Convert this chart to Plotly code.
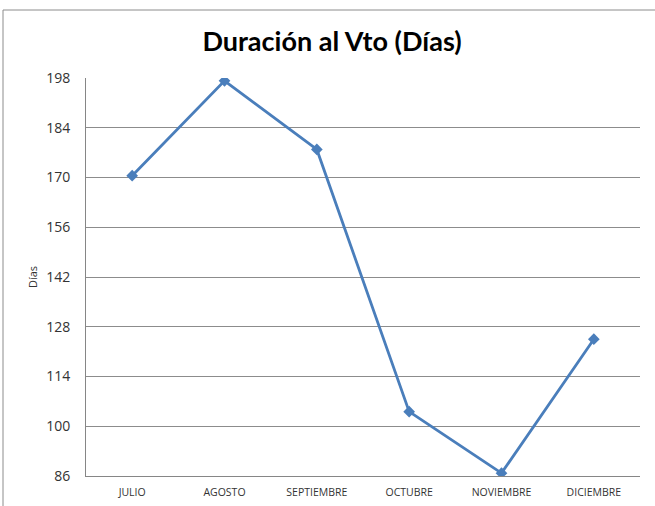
import plotly.graph_objects as go

months = ["JULIO", "AGOSTO", "SEPTIEMBRE", "OCTUBRE", "NOVIEMBRE", "DICIEMBRE"]
dias = [170.5, 197.2, 177.9, 104.1, 86.8, 124.5]
y_ticks = [86, 100, 114, 128, 142, 156, 170, 184, 198]

fig = go.Figure()
fig.add_trace(go.Scatter(
    x=months, y=dias, mode="lines+markers",
    line=dict(color="#4a7ebb", width=2.8),
    marker=dict(symbol="diamond", size=9, color="#4a7ebb"),
    showlegend=False,
))

W, H = 655, 506
L, R, T, B = 86, 15, 78, 30
pw, ph = W - L - R, H - T - B

fig.add_shape(type="rect", xref="paper", yref="paper",
              x0=(3 - L) / pw, x1=(W + 20 - L) / pw,
              y0=(H - B - (H + 20)) / ph, y1=(H - B - 10) / ph,
              line=dict(color="#8c8c8c", width=1), fillcolor="rgba(0,0,0,0)", layer="below")

fig.update_layout(
    width=W, height=H,
    margin=dict(l=L, r=R, t=T, b=B, autoexpand=False),
    paper_bgcolor="white", plot_bgcolor="white",
    title=dict(text="<b>Duración al Vto (Días)</b>", x=332 / W, xref="container", xanchor="center",
               y=1 - 42 / H, yref="container", yanchor="middle",
               font=dict(family="Lato", size=27, color="black")),
    font=dict(family="Open Sans", color="#333"),
)
fig.update_xaxes(
    type="category", range=[-0.5, 5.5], showgrid=False,
    showline=True, linecolor="#868686", linewidth=1,
    ticks="", ticklabelstandoff=6, automargin=False,
    tickfont=dict(size=10.5, family="Open Sans", color="#333"),
    fixedrange=True,
)
fig.update_yaxes(
    range=[86, 198], tickvals=y_ticks, ticktext=[str(v) for v in y_ticks],
    showgrid=True, gridcolor="#8c8c8c", gridwidth=1,
    showline=True, linecolor="#868686", linewidth=1,
    ticks="", ticklabelstandoff=12, automargin=False,
    tickfont=dict(size=14, family="Open Sans", color="#333"),
    title=dict(text="Días", font=dict(size=11, family="Open Sans", color="#333"), standoff=6),
    zeroline=False, fixedrange=True,
)

fig.write_html("out.html", config={"displayModeBar": False},
               post_script="document.body.style.margin='0';document.body.style.overflow='hidden';")
